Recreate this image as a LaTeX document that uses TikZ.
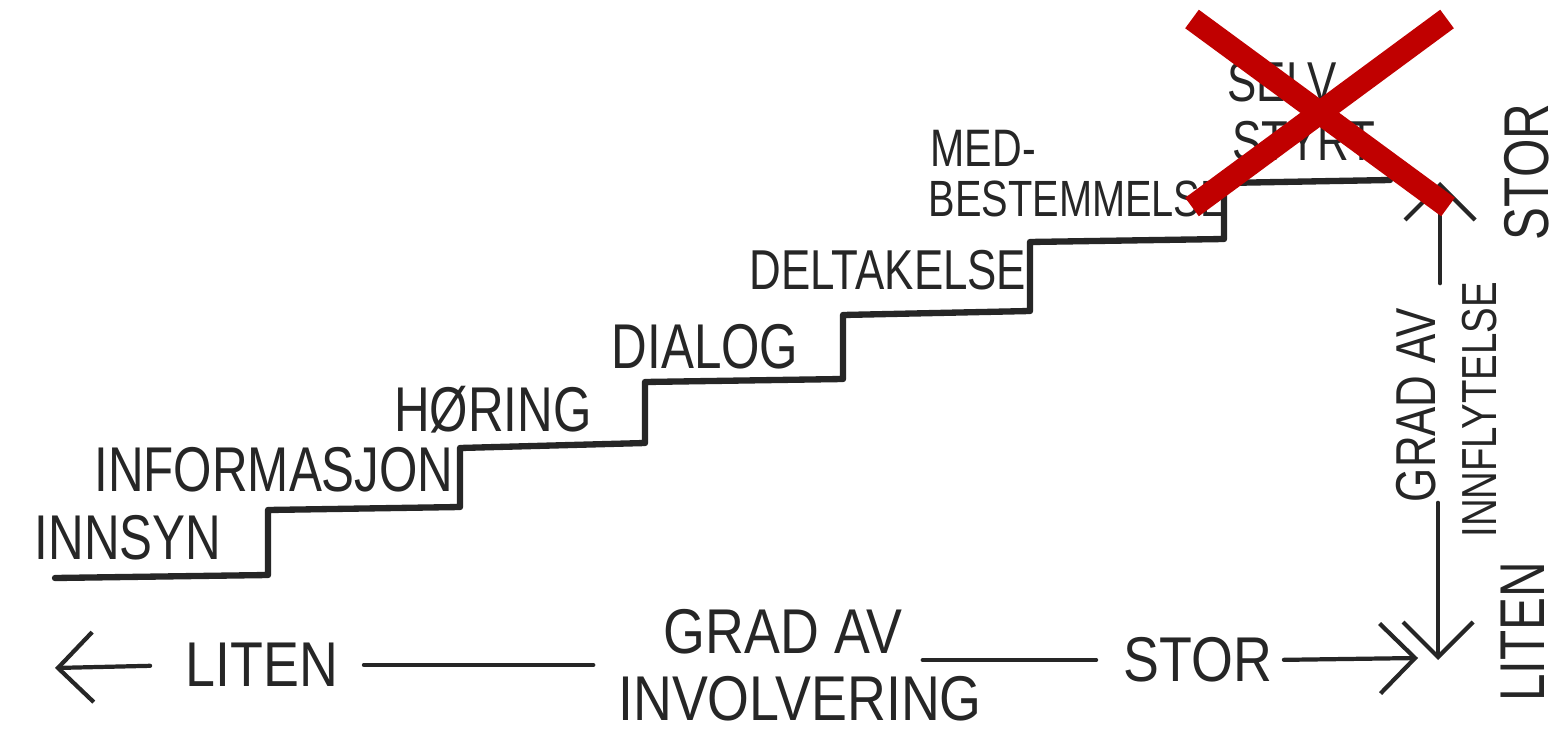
\documentclass[tikz,border=0pt]{standalone}
\usepackage{fontspec}
\usetikzlibrary{arrows.meta}
\newfontfamily\handfont{Liberation Sans}[FakeStretch=0.78]
\newfontfamily\handwide{Liberation Sans}[FakeStretch=0.85]
\definecolor{ink}{RGB}{38,38,38}
\definecolor{crossred}{RGB}{192,0,0}
\tikzset{
	stair/.style={draw=ink, line width=1.8pt, line join=round, line cap=round},
	axis/.style={draw=ink, line width=1.2pt, line cap=round},
	tip/.style={-{Straight Barb[length=3.5mm,width=7mm]}},
	word/.style={inner sep=0pt, text=ink, font=\handfont\fontsize{18}{20}\selectfont},
	axisword/.style={word, font=\handwide\fontsize{18}{20}\selectfont},
	sideword/.style={word, rotate=90, font=\handfont\fontsize{16}{18}\selectfont},
	cross/.style={draw=crossred, line width=2.3mm},
}
\begin{document}
\begin{tikzpicture}[x=0.1mm, y=-0.1mm]
	\fill[white] (0,0) rectangle (1567,736);
	\useasboundingbox (0,0) rectangle (1567,736);

	% staircase
	\draw[stair] (55,578) -- (268,575) -- (268,510) -- (460,507) -- (460,448)
		-- (645,443) -- (645,382) -- (843,379) -- (843,315) -- (1030,311)
		-- (1030,242) -- (1224,239) -- (1224,183) -- (1390,180);

	% step labels
	\node[word] (innsyn) at (128,538) {INNSYN};
	\node[word] (informasjon) at (274,470) {INFORMASJON};
	\node[word] (horing) at (493,410) {HØRING};
	\node[word] (dialog) at (705,347) {DIALOG};
	\node[word, font=\handfont\fontsize{16}{18}\selectfont] (deltakelse) at (888,270) {DELTAKELSE};
	\node[word, anchor=west, font=\handfont\fontsize{15}{17}\selectfont] (med) at (930,148) {MED-};
	\node[word, anchor=west, font=\handfont\fontsize{14.5}{17}\selectfont] (bestemmelse) at (928,199) {BESTEMMELSE};
	\node[word, font=\handfont\fontsize{16}{18}\selectfont] (selv) at (1282,82) {SELV};
	\node[word, font=\handfont\fontsize{16}{18}\selectfont] (styrt) at (1304,141) {STYRT};

	% horizontal axis
	\coordinate (hleft) at (55,668);
	\coordinate (hright) at (1418,658);
	\node[axisword] (litenH) at (262,665) {LITEN};
	\node[axisword] (gradH) at (783,632) {GRAD AV};
	\node[axisword] (involvering) at (800,699) {INVOLVERING};
	\node[axisword] (storH) at (1198,660) {STOR};
	\draw[axis, tip, shorten <=3.5mm] (litenH.west) -- (hleft);
	\draw[axis, shorten <=2.5mm, shorten >=7mm] (litenH.east) -- (gradH.west |- litenH.east);
	\draw[axis, shorten <=2mm, shorten >=2.7mm] (gradH.east |- storH.west) -- (storH.west);
	\draw[axis, tip, shorten <=1.1mm] (storH.east) -- (hright);

	% vertical axis
	\coordinate (vtop) at (1440,182);
	\coordinate (vbot) at (1438,660);
	\node[sideword] (gradV) at (1416,405) {GRAD AV};
	\node[sideword, font=\handfont\fontsize{14}{16}\selectfont] (innflytelse) at (1480,410) {INNFLYTELSE};
	\node[sideword, font=\handfont\fontsize{18}{20}\selectfont] (storV) at (1527,172) {STOR};
	\node[sideword, font=\handfont\fontsize{18}{20}\selectfont] (litenV) at (1523,632) {LITEN};
	\draw[axis, tip, shorten <=2.4mm] (gradV.east -| vtop) -- (vtop);
	\draw[axis, tip] (gradV.west -| vbot) -- (vbot);

	% crossed out
	\draw[cross] (1192,19) -- (1448,207);
	\draw[cross] (1447,19) -- (1192,207);
\end{tikzpicture}
\end{document}
